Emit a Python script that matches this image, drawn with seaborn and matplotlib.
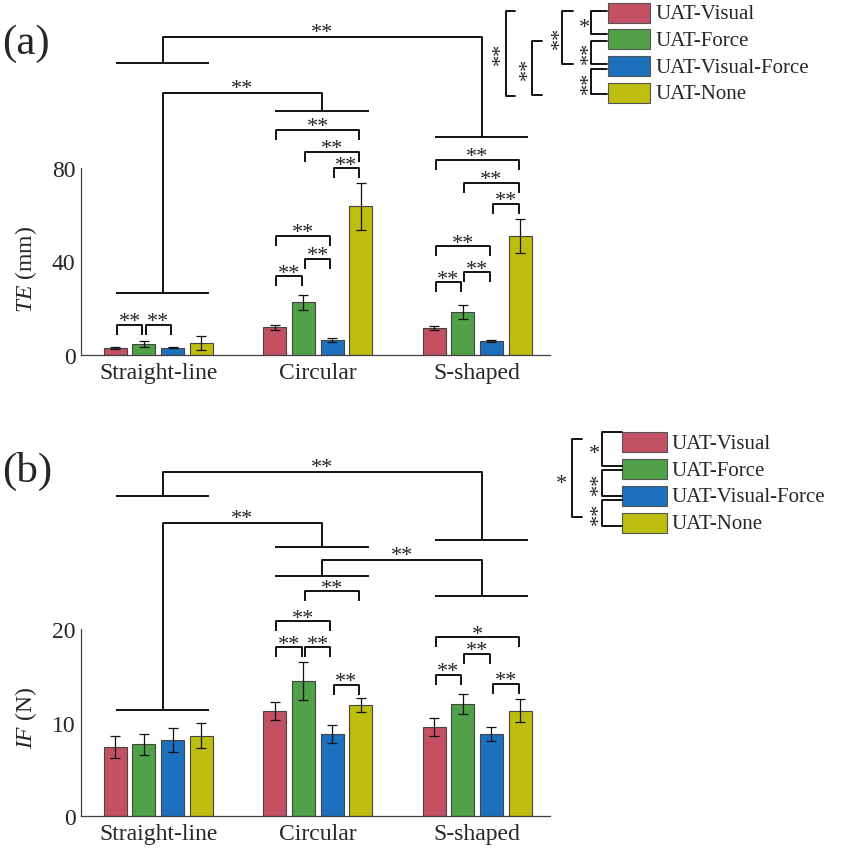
import numpy as np
import pandas as pd
import matplotlib
matplotlib.use("Agg")
import matplotlib.pyplot as plt
import seaborn as sns
from matplotlib.patches import Rectangle

# ---- data ----
tasks = ["Straight-line", "Circular", "S-shaped"]
conditions = ["UAT-Visual", "UAT-Force", "UAT-Visual-Force", "UAT-None"]
colors = ["#C45064", "#50A048", "#1C70BE", "#BEBE10"]

# tracking error TE (mm), one row per condition, columns follow tasks
te_mean = [[3.0, 11.8, 11.4],
           [4.8, 22.5, 18.4],
           [3.1, 6.6, 5.9],
           [5.1, 63.6, 50.8]]
te_sd = [[0.3, 1.0, 0.9],
         [1.4, 3.3, 3.1],
         [0.3, 0.85, 0.4],
         [2.9, 10.1, 7.2]]

# interaction force IF (N)
if_mean = [[7.43, 11.25, 9.54],
           [7.68, 14.47, 12.0],
           [8.11, 8.79, 8.82],
           [8.61, 11.9, 11.29]]
if_sd = [[1.18, 1.0, 1.0],
         [1.12, 2.0, 1.12],
         [1.29, 0.97, 0.75],
         [1.3, 0.77, 1.2]]

# significance within a task: (task, cond_i, cond_j, bracket height, label)
te_pairs = [(0, 0, 1, 12.8, "**"), (0, 1, 2, 12.8, "**"),
            (1, 0, 3, 96.3, "**"), (1, 1, 3, 87.0, "**"), (1, 2, 3, 79.9, "**"),
            (1, 0, 2, 51.0, "**"), (1, 1, 2, 41.1, "**"), (1, 0, 1, 33.7, "**"),
            (2, 0, 3, 83.6, "**"), (2, 1, 3, 73.6, "**"), (2, 2, 3, 64.6, "**"),
            (2, 0, 2, 46.5, "**"), (2, 1, 2, 35.4, "**"), (2, 0, 1, 31.1, "**")]
if_pairs = [(1, 1, 3, 24.07, "**"), (1, 0, 2, 20.86, "**"), (1, 0, 1, 18.07, "**"),
            (1, 1, 2, 18.07, "**"), (1, 2, 3, 14.07, "**"),
            (2, 0, 3, 19.14, "*"), (2, 1, 2, 17.35, "**"), (2, 0, 1, 15.10, "**"),
            (2, 2, 3, 14.14, "**")]

# significance between tasks: (task_a, line_a, task_b, line_b, top, label)
te_links = [(0, 26.5, 1, 104.5, 112.0, "**"),
            (0, 124.9, 2, 93.4, 135.9, "**")]
if_links = [(0, 34.25, 2, 29.57, 36.82, "**"),
            (0, 11.36, 1, 28.85, 31.36, "**"),
            (1, 25.71, 2, 23.54, 27.46, "**")]

# ---- style ----
sns.set_theme(style="white")
plt.rcParams["font.family"] = ["Liberation Serif", "DejaVu Serif"]
plt.rcParams["mathtext.fontset"] = "custom"
plt.rcParams["mathtext.rm"] = "Liberation Serif"
plt.rcParams["mathtext.it"] = "Liberation Serif:italic"

LINE = dict(color="black", lw=1.3, clip_on=False, solid_capstyle="butt")
STAR = 16

fig = plt.figure(figsize=(8.51, 8.54), dpi=100)
W, H = 851, 854
ov = fig.add_axes([0, 0, 1, 1])
ov.set_xlim(0, W)
ov.set_ylim(H, 0)
ov.axis("off")


def span(g):
    return g - 0.265, g + 0.32


def draw_panel(ax, mean, sd, pairs, links, ylim, yticks, ylabel, label_y, leg):
    df = pd.DataFrame({
        "task": [t for _ in conditions for t in tasks],
        "cond": [c for c in conditions for _ in tasks],
        "value": np.array(mean).ravel(),
    })
    sns.barplot(data=df, x="task", y="value", hue="cond", order=tasks,
                hue_order=conditions, palette=colors, width=0.72, gap=0.2,
                edgecolor="#444444", linewidth=0.8, errorbar=None,
                legend=False, ax=ax, saturation=1)

    centers = []
    bar_groups = list(ax.containers)
    for ci, cont in enumerate(bar_groups):
        xs = [b.get_x() + b.get_width() / 2 for b in cont]
        hs = [b.get_height() for b in cont]
        centers.append(xs)
        ax.errorbar(xs, hs, yerr=sd[ci], fmt="none", ecolor="#111111",
                    elinewidth=0.9, capsize=3.5, capthick=0.9, zorder=5)

    for g, i, j, y, lab in pairs:
        x1, x2 = centers[i][g] + 0.01, centers[j][g] - 0.01
        ax.plot([x1, x1, x2, x2], [y - leg, y, y, y - leg], **LINE)
        ax.annotate(lab, ((x1 + x2) / 2, y), xytext=(0, -1),
                    textcoords="offset points", ha="center", va="baseline",
                    fontsize=STAR, annotation_clip=False)

    for ga, ya, gb, yb, top, lab in links:
        for g, y in ((ga, ya), (gb, yb)):
            ax.plot(span(g), [y, y], **LINE)
        xa, xb = np.mean(span(ga)), np.mean(span(gb))
        ax.plot([xa, xa, xb, xb], [ya, top, top, yb], **LINE)
        ax.annotate(lab, ((xa + xb) / 2, top), xytext=(0, 0),
                    textcoords="offset points", ha="center", va="baseline",
                    fontsize=STAR, annotation_clip=False)

    ax.set_xlim(-0.485, 2.457)
    ax.set_ylim(*ylim)
    ax.set_yticks(yticks)
    ax.set_xlabel("")
    ax.set_ylabel(ylabel, fontsize=17)
    ax.yaxis.set_label_coords(-0.09, label_y)
    sns.despine(ax=ax)
    for s in ("left", "bottom"):
        ax.spines[s].set_color("#404040")
        ax.spines[s].set_linewidth(0.9)
    ax.tick_params(direction="in", length=5, width=0.8, color="#606060",
                   labelsize=17, pad=4)
    ax.tick_params(axis="x", pad=5)
    ax.grid(False)
    ax.patch.set_alpha(0)


def draw_legend(px, pw, row0, text_x, brackets):
    for k, (c, name) in enumerate(zip(colors, conditions)):
        yc = row0 + 26.8 * k
        ov.add_patch(Rectangle((px, yc - 10), pw, 20, facecolor=c,
                               edgecolor="#555555", lw=0.8))
        ov.text(text_x, yc + 1, name, fontsize=15, ha="left", va="center")
    for x, y1, y2, xe, lab, lx in brackets:
        ov.plot([xe, x, x, xe], [y1, y1, y2, y2], color="black", lw=1.3)
        ym = (y1 + y2) / 2
        if lab == "*":
            ov.text(lx, ym + 5, lab, fontsize=STAR, ha="center", va="center")
        else:
            ov.text(lx + 5, ym, lab, fontsize=STAR, ha="center", va="center",
                    rotation=90)


ax_a = fig.add_axes([81 / W, 1 - 356 / H, 469 / W, 187 / H])
draw_panel(ax_a, te_mean, te_sd, te_pairs, te_links, (0, 80), [0, 40, 80],
           r"$\it{TE}$ (mm)", 0.46, 4.3)

ax_b = fig.add_axes([81 / W, 1 - 817 / H, 469 / W, 186.7 / H])
draw_panel(ax_b, if_mean, if_sd, if_pairs, if_links, (0, 20), [0, 10, 20],
           r"$\it{IF}$ (N)", 0.533, 1.07)

draw_legend(607.7, 42.3, 13.5, 655,
            [(591, 11.7, 35, 606.7, "*", 584),
             (591, 41.7, 65, 606.7, "**", 584),
             (591, 70, 95, 606.7, "**", 584),
             (561.7, 11.7, 65, 573.3, "**", 555),
             (531.7, 41.7, 96, 542.3, "**", 523),
             (506, 11.7, 96.7, 515, "**", 496)])
draw_legend(621.7, 45, 443.3, 671.7,
            [(601.7, 433, 466.7, 621.7, "*", 594.3),
             (601.7, 471, 497.3, 621.7, "**", 594.3),
             (601.7, 501, 526.7, 621.7, "**", 594.3),
             (571.7, 440, 518.3, 581.7, "*", 561.7)])

ov.text(2, 44, "(a)", fontsize=31, ha="left", va="center")
ov.text(2, 471, "(b)", fontsize=31, ha="left", va="center")

fig.savefig("out.png", dpi=100)
